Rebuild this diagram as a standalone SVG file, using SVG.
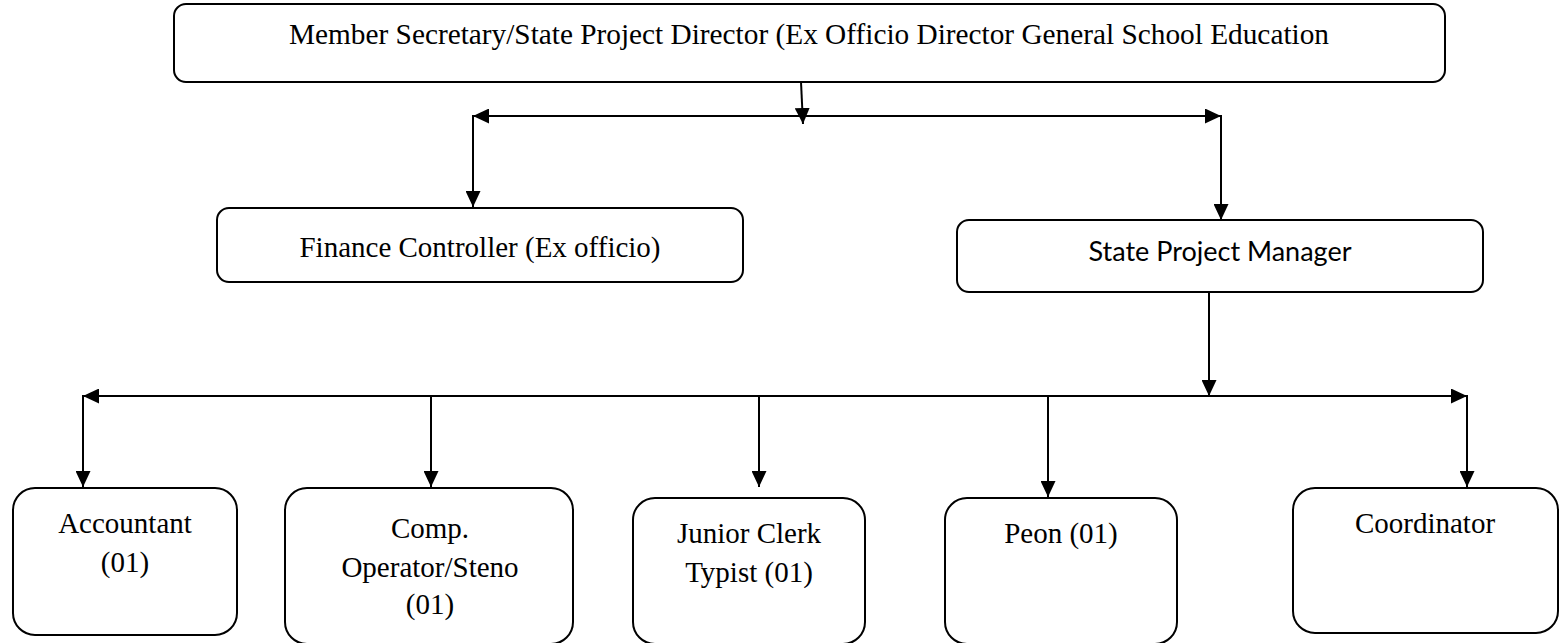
<svg xmlns="http://www.w3.org/2000/svg" width="1567" height="643" viewBox="0 0 1567 643">
<style>
.box{fill:#fff;stroke:#000;stroke-width:2}
.t{font-family:"Liberation Serif","Times New Roman",serif;font-size:29px;fill:#000;text-anchor:middle}
.s{font-family:Lato,"Liberation Sans",sans-serif;font-size:27px;fill:#000;text-anchor:middle}
.c{fill:none;stroke:#000;stroke-width:2}
</style>
<defs>
<marker id="ah" markerUnits="userSpaceOnUse" markerWidth="17" markerHeight="15" refX="16" refY="7.5" orient="auto">
<path d="M0,0 L16,7.5 L0,15 z" fill="#000"/>
</marker>
</defs>
<g id="connectors">
<line class="c" x1="801" y1="82" x2="803" y2="124" marker-end="url(#ah)"/>
<line class="c" x1="803" y1="116" x2="473" y2="116" marker-end="url(#ah)"/>
<line class="c" x1="803" y1="116" x2="1221" y2="116" marker-end="url(#ah)"/>
<line class="c" x1="473" y1="115" x2="473" y2="207" marker-end="url(#ah)"/>
<line class="c" x1="1221" y1="115" x2="1221" y2="220" marker-end="url(#ah)"/>
<line class="c" x1="1209" y1="292" x2="1209" y2="396" marker-end="url(#ah)"/>
<line class="c" x1="1209" y1="396" x2="83" y2="396" marker-end="url(#ah)"/>
<line class="c" x1="1209" y1="396" x2="1467" y2="396" marker-end="url(#ah)"/>
<line class="c" x1="83" y1="395" x2="83" y2="487" marker-end="url(#ah)"/>
<line class="c" x1="431" y1="396" x2="431" y2="487" marker-end="url(#ah)"/>
<line class="c" x1="759" y1="396" x2="759" y2="487" marker-end="url(#ah)"/>
<line class="c" x1="1048" y1="396" x2="1048" y2="497" marker-end="url(#ah)"/>
<line class="c" x1="1467" y1="395" x2="1467" y2="487" marker-end="url(#ah)"/>
</g>
<g id="director">
<rect class="box" x="174" y="4" width="1271" height="78" rx="12"/>
<text class="t" x="809" y="44" style="font-size:29.3px">Member Secretary/State Project Director (Ex Officio Director General School Education</text>
</g>
<g id="finance">
<rect class="box" x="217" y="208" width="526" height="74" rx="12"/>
<text class="t" x="480" y="257">Finance Controller (Ex officio)</text>
</g>
<g id="spm">
<rect class="box" x="957" y="220" width="526" height="72" rx="12"/>
<text class="s" x="1220" y="261">State Project Manager</text>
</g>
<g id="accountant">
<rect class="box" x="13" y="488" width="224" height="147" rx="22"/>
<text class="t" x="125" y="533">Accountant</text>
<text class="t" x="125" y="572">(01)</text>
</g>
<g id="comp">
<rect class="box" x="285" y="488" width="288" height="156" rx="22"/>
<text class="t" x="430" y="538">Comp.</text>
<text class="t" x="430" y="577">Operator/Steno</text>
<text class="t" x="430" y="614">(01)</text>
</g>
<g id="junior">
<rect class="box" x="633" y="498" width="232" height="146" rx="22"/>
<text class="t" x="749" y="543">Junior Clerk</text>
<text class="t" x="749" y="582">Typist (01)</text>
</g>
<g id="peon">
<rect class="box" x="945" y="498" width="232" height="146" rx="22"/>
<text class="t" x="1061" y="543">Peon (01)</text>
</g>
<g id="coordinator">
<rect class="box" x="1293" y="488" width="265" height="145" rx="22"/>
<text class="t" x="1425" y="533">Coordinator</text>
</g>
</svg>
